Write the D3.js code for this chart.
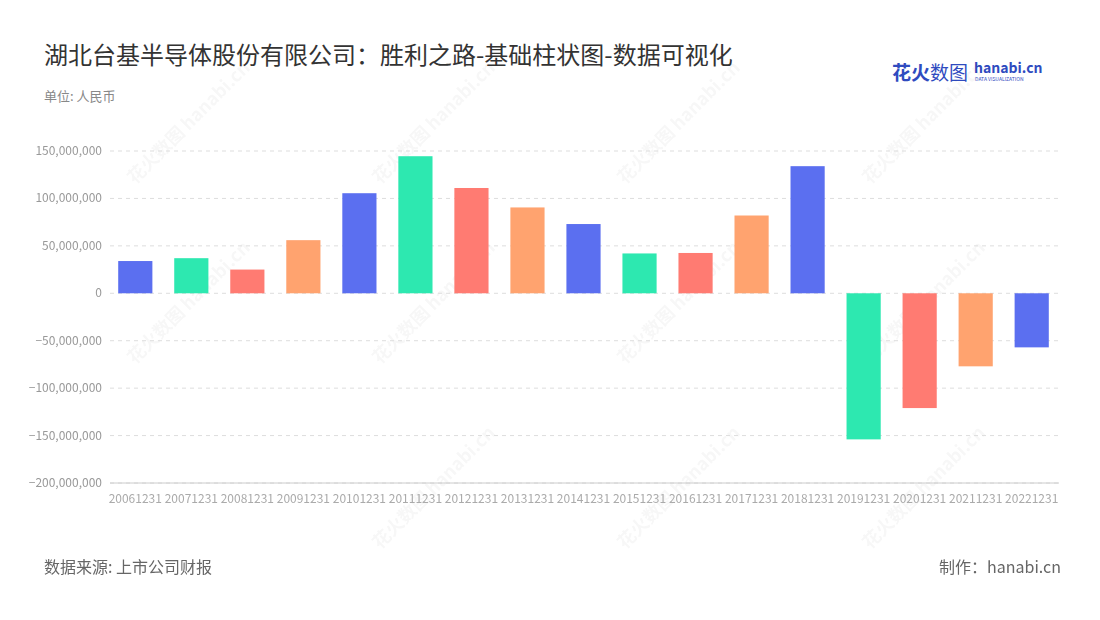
<!DOCTYPE html>
<html><head><meta charset="utf-8">
<script src="https://cdn.jsdelivr.net/npm/d3@7/dist/d3.min.js"></script>
<style>body{margin:0;background:#fff;font-family:"Noto Sans CJK SC","Noto Sans",sans-serif}</style>
</head><body><svg id="c" width="1100" height="620"></svg>
<script>
const categories=["20061231","20071231","20081231","20091231","20101231","20111231","20121231","20131231","20141231","20151231","20161231","20171231","20181231","20191231","20201231","20211231","20221231"];
const values=[34e6,37e6,25e6,56e6,105.5e6,144.5e6,111e6,90.5e6,73e6,42e6,42.5e6,82e6,134e6,-154e6,-121e6,-77e6,-57e6];
const tickValues=[150e6,100e6,50e6,0,-50e6,-100e6,-150e6,-200e6];
const palette=["#5b6ff0","#2de8b0","#ff7b72","#ffa36f"];
const svg=d3.select("#c");
const x=d3.scaleBand().domain(categories).range([107,1060]).paddingInner(0.39).paddingOuter(0.2);
const y=d3.scaleLinear().domain([-200e6,150e6]).range([483,151]);
svg.append("text").attr("x",44).attr("y",64).attr("font-size",24).attr("fill","#333").text("湖北台基半导体股份有限公司：胜利之路-基础柱状图-数据可视化");
svg.append("text").attr("x",44).attr("y",101).attr("font-size",13).attr("fill","#888").text("单位: 人民币");
svg.append("text").attr("x",892).attr("y",80).attr("font-size",19).attr("font-weight","bold").attr("fill","#2f4bbf").text("花火");
svg.append("text").attr("x",930).attr("y",80).attr("font-size",19).attr("fill","#2f4bbf").text("数图");
svg.append("text").attr("x",974).attr("y",73).attr("font-size",14).attr("font-weight","bold").attr("fill","#2f4bbf").text("hanabi.cn");
svg.append("text").attr("x",975).attr("y",81).attr("font-size",5).attr("fill","#2f4bbf").text("DATA VISUALIZATION");
const wm=svg.append("g").attr("fill","#000").attr("opacity",0.035).attr("font-size",18).attr("font-weight","bold");
[[135,185],[380,185],[625,185],[870,185],[135,365],[380,365],[625,365],[870,365],[380,550],[625,550],[870,550]].forEach(([a,b])=>{
 wm.append("text").attr("transform",`translate(${a},${b}) rotate(-45)`).text("花火数图 hanabi.cn");});
const g=svg.append("g");
tickValues.forEach(t=>{
 g.append("line").attr("x1",110).attr("x2",1059).attr("y1",y(t)).attr("y2",y(t)).attr("stroke","#ddd").attr("stroke-dasharray","4,4");
 g.append("text").attr("x",102).attr("y",y(t)+4).attr("text-anchor","end").attr("font-size",12).attr("fill","#999").text(d3.format(",")(t));
});
g.append("line").attr("x1",110).attr("x2",1059).attr("y1",483).attr("y2",483).attr("stroke","#ccc");
g.selectAll("rect").data(values).join("rect")
 .attr("x",(d,i)=>x(categories[i])).attr("width",x.bandwidth())
 .attr("y",d=>y(Math.max(0,d))).attr("height",d=>Math.abs(y(d)-y(0)))
 .attr("fill",(d,i)=>palette[i%4]);
categories.forEach(c=>{
 g.append("text").attr("x",x(c)+x.bandwidth()/2).attr("y",503).attr("text-anchor","middle").attr("font-size",12).attr("fill","#aaa").text(c);
});
svg.append("text").attr("x",44).attr("y",573).attr("font-size",16).attr("fill","#666").text("数据来源: 上市公司财报");
svg.append("text").attr("x",1061).attr("y",573).attr("text-anchor","end").attr("font-size",16).attr("fill","#666").text("制作：hanabi.cn");
</script></body></html>
